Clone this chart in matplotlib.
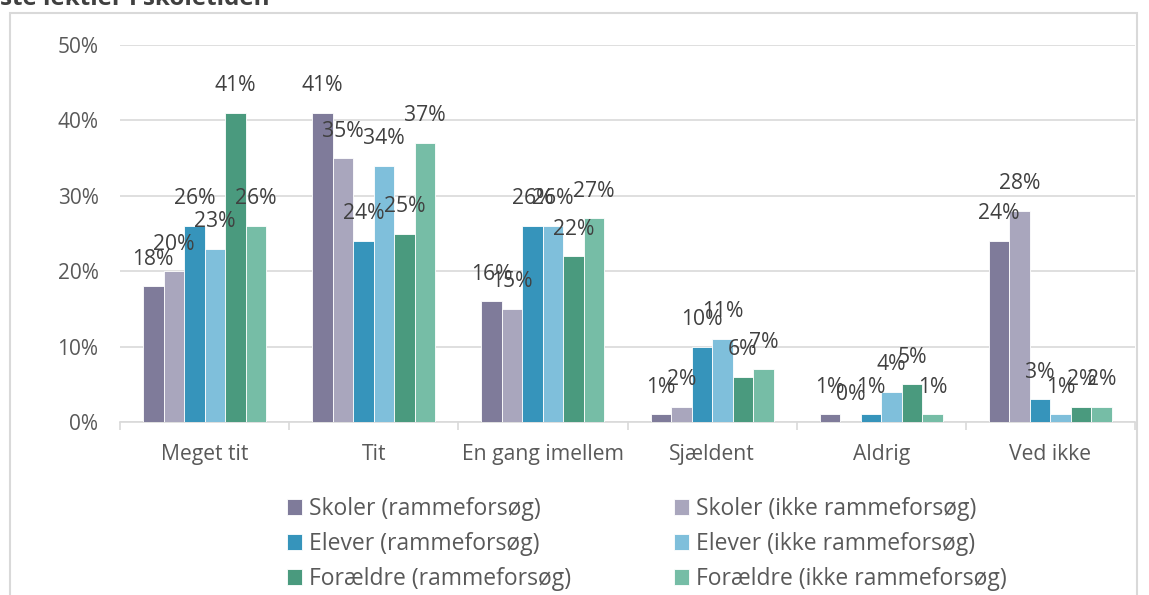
import matplotlib.pyplot as plt
import numpy as np
from matplotlib.patches import Rectangle

plt.rcParams['font.family'] = ['Open Sans', 'DejaVu Sans']

categories = ['Meget tit', 'Tit', 'En gang imellem', 'Sjældent', 'Aldrig', 'Ved ikke']
series = ['Skoler (rammeforsøg)', 'Skoler (ikke rammeforsøg)',
          'Elever (rammeforsøg)', 'Elever (ikke rammeforsøg)',
          'Forældre (rammeforsøg)', 'Forældre (ikke rammeforsøg)']
skoler_ramme = [18, 41, 16, 1, 1, 24]
skoler_ikke = [20, 35, 15, 2, 0, 28]
elever_ramme = [26, 24, 26, 10, 1, 3]
elever_ikke = [23, 34, 26, 11, 4, 1]
foraeldre_ramme = [41, 25, 22, 6, 5, 2]
foraeldre_ikke = [26, 37, 27, 7, 1, 2]
values = [skoler_ramme, skoler_ikke, elever_ramme, elever_ikke, foraeldre_ramme, foraeldre_ikke]
colors = ['#7f7b9a', '#a9a6bd', '#3694bb', '#7fbfdb', '#4a9a7e', '#76bda6']

W, H = 1149, 595
fig = plt.figure(figsize=(W / 100, H / 100), dpi=100)
ax = fig.add_axes([120 / W, 1 - 422 / H, (1135 - 120) / W, (422 - 45) / H])

x = np.arange(len(categories))
bw = 0.1213
handles = []
for i, (vals, col) in enumerate(zip(values, colors)):
    pos = x + (i - 2.5) * bw
    bars = ax.bar(pos, vals, bw, color=col, edgecolor='white', linewidth=0.6, zorder=3, label=series[i])
    handles.append(bars)
    for p, v in zip(pos, vals):
        ax.annotate(f'{v}%', (p, v), xytext=(0, 19.5), textcoords='offset points',
                    ha='center', va='center', fontsize=15.2, color='#404040', zorder=4)

ax.set_xlim(-0.5, len(categories) - 0.5)
ax.set_ylim(0, 50)
ax.set_yticks(range(0, 51, 10))
ax.set_yticklabels([f'{t}%' for t in range(0, 51, 10)])
ax.set_xticks(x)
ax.set_xticklabels(categories)
ax.set_xticks(np.arange(-0.5, len(categories), 1), minor=True)
ax.tick_params(axis='x', which='major', length=0, pad=16, labelsize=15.2, labelcolor='#595959')
ax.tick_params(axis='x', which='minor', length=6, color='#d9d9d9', width=1.2)
ax.tick_params(axis='y', length=0, pad=15.5, labelsize=15, labelcolor='#595959')
ax.grid(axis='y', color='#d9d9d9', linewidth=1.2, zorder=0)
for s in ['top', 'right', 'left']:
    ax.spines[s].set_visible(False)
ax.spines['bottom'].set_color('#d9d9d9')
ax.spines['bottom'].set_linewidth(1.2)

# legend reads row by row: rammeforsøg left, ikke rammeforsøg right
leg_handles = [handles[i] for i in [0, 2, 4, 1, 3, 5]]
leg_labels = [series[i] for i in [0, 2, 4, 1, 3, 5]]
leg = fig.legend(leg_handles, leg_labels, ncol=2, loc='center', bbox_to_anchor=(647 / W, 1 - 544 / H),
                 frameon=False, fontsize=16.5, handlelength=0.65, handleheight=0.65,
                 handletextpad=0.3, columnspacing=4.5, labelspacing=0.48, labelcolor='#595959')

# chart frame and cut-off heading
fig.patches.append(Rectangle((10 / W, -0.05), (1137 - 10) / W, 1.05 - 13 / H,
                             transform=fig.transFigure, fill=False,
                             edgecolor='#d9d9d9', linewidth=1.5))
fig.text(0.0, 1 - 5 / H, 'ste lektier i skoletiden', fontsize=17.5, fontweight='bold',
         color='#404040', ha='left', va='baseline')

fig.savefig('out.png', dpi=100)
